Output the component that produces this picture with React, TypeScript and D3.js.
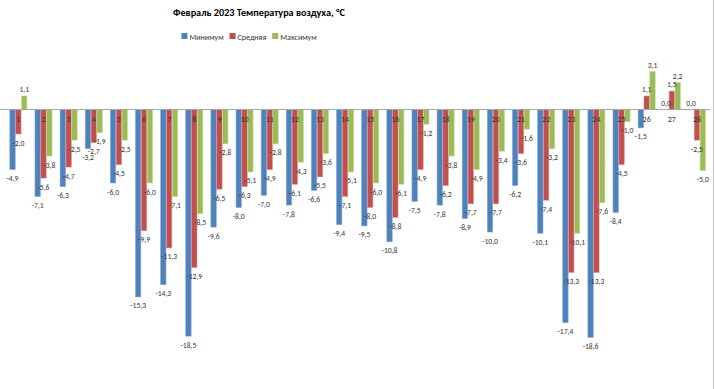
import { useRef, useEffect } from "react";
import * as d3 from "d3";

const days = [
  "1", "2", "3", "4", "5", "6", "7", "8", "9", "10", "11", "12", "13", "14",
  "15", "16", "17", "18", "19", "20", "21", "22", "23", "24", "25", "26", "27", "28",
];
const minimum = [
  -4.9, -7.1, -6.3, -3.2, -6.0, -15.3, -14.3, -18.5, -9.6, -8.0, -7.0, -7.8, -6.6, -9.4,
  -9.5, -10.8, -7.5, -7.8, -8.9, -10.0, -6.2, -10.1, -17.4, -18.6, -8.4, -1.5, 0.0, 0.0,
];
const average = [
  -2.0, -5.6, -4.7, -2.7, -4.5, -9.9, -11.3, -12.9, -6.5, -6.3, -4.9, -6.1, -5.5, -7.1,
  -8.0, -8.8, -4.9, -6.2, -7.7, -7.7, -3.6, -7.4, -13.3, -13.3, -4.5, 1.1, 1.5, -2.5,
];
const maximum = [
  1.1, -3.8, -2.5, -1.9, -2.5, -6.0, -7.1, -8.5, -2.8, -5.1, -2.8, -4.3, -3.6, -5.1,
  -6.0, -6.1, -1.2, -3.8, -4.9, -3.4, -1.6, -3.2, -10.1, -7.6, -1.0, 3.1, 2.2, -5.0,
];
const seriesNames = ["Минимум", "Средняя", "Максимум"];
const colors = ["#4F81BD", "#C0504D", "#9BBB59"];
const strokes = ["#7FA6D6", "#DE8A88", "#C1D98E"];

const W = 715;
const H = 389;
const FONT = "Carlito, Calibri, 'Liberation Sans Narrow', 'Liberation Sans', Arial, sans-serif";

const fmt = (v: number) => v.toFixed(1).replace(".", ",");

function App() {
  const svgRef = useRef<SVGSVGElement>(null);

  useEffect(() => {
    document.body.style.margin = "0";
    const svg = d3.select(svgRef.current);
    svg.selectAll("*").remove();

    const series = [minimum, average, maximum];

    const x = d3.scaleBand().domain(days).range([5.8, 709.5]).padding(0);
    const step = x.bandwidth();
    const bw = step / 4.3;
    const xs = d3
      .scaleBand()
      .domain(seriesNames)
      .range([0.65 * bw, step - 0.65 * bw])
      .padding(0);
    const y = d3.scaleLinear().domain([-20, 4]).range([354.5, 60.5]);

    svg.append("rect").attr("width", W).attr("height", H).attr("fill", "#fff");

    // title
    svg.append("text")
      .attr("x", 259)
      .attr("y", 16)
      .attr("text-anchor", "middle")
      .attr("font-family", FONT)
      .attr("font-weight", "bold")
      .attr("font-size", 10.2)
      .attr("fill", "#000")
      .text("Февраль 2023 Температура воздуха, °C");

    // legend, laid out from measured text widths and centred
    const legend = svg.append("g");
    let cursor = 0;
    seriesNames.forEach((name, i) => {
      const g = legend.append("g").attr("transform", `translate(${cursor},0)`);
      g.append("rect").attr("y", -6).attr("width", 6).attr("height", 6).attr("fill", colors[i]);
      const t = g.append("text")
        .attr("x", 8)
        .attr("y", 0.5)
        .attr("font-family", FONT)
        .attr("font-size", 8)
        .attr("fill", "#333")
        .text(name);
      const w = (t.node() as SVGTextElement).getComputedTextLength();
      cursor += 8 + w + 6;
    });
    const total = cursor - 6;
    legend.attr("transform", `translate(${249 - total / 2},39)`);

    // bars
    series.forEach((vals, si) => {
      svg.append("g")
        .selectAll("rect")
        .data(vals)
        .join("rect")
        .attr("x", (_, i) => (x(days[i]) as number) + (xs(seriesNames[si]) as number) + 0.25)
        .attr("width", xs.bandwidth() - 0.5)
        .attr("y", (d) => y(Math.max(0, d)))
        .attr("height", (d) => Math.abs(y(d) - y(0)))
        .attr("fill", colors[si])
        .attr("stroke", strokes[si])
        .attr("stroke-width", 0.6);
    });

    // axis line
    svg.append("line")
      .attr("x1", 0)
      .attr("x2", 710)
      .attr("y1", y(0))
      .attr("y2", y(0))
      .attr("stroke", "#A6A6A6")
      .attr("stroke-width", 1);

    // category labels
    svg.append("g")
      .selectAll("text")
      .data(days)
      .join("text")
      .attr("x", (d) => (x(d) as number) + step / 2)
      .attr("y", y(0) + 12)
      .attr("text-anchor", "middle")
      .attr("font-family", FONT)
      .attr("font-size", 8)
      .attr("fill", "#333")
      .text((d) => d);

    // data labels
    series.forEach((vals, si) => {
      svg.append("g")
        .selectAll("text")
        .data(vals)
        .join("text")
        .attr("x", (_, i) => (x(days[i]) as number) + (xs(seriesNames[si]) as number) + xs.bandwidth() / 2)
        .attr("y", (d) => (d < 0 ? y(d) + 11.5 : y(d) - 4))
        .attr("text-anchor", "middle")
        .attr("font-family", FONT)
        .attr("font-size", 7.6)
        .attr("fill", "#333")
        .text((d) => fmt(d));
    });

    // right border
    svg.append("line")
      .attr("x1", 713.5)
      .attr("x2", 713.5)
      .attr("y1", 0)
      .attr("y2", H)
      .attr("stroke", "#BFBFBF")
      .attr("stroke-width", 1);
  }, []);

  return <svg ref={svgRef} width={W} height={H} style={{ display: "block" }} />;
}

export default App;
